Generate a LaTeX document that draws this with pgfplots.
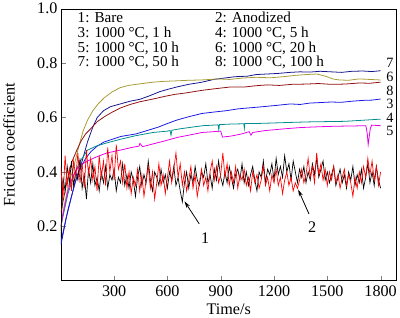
\documentclass[border=0pt]{standalone}
\usepackage{fontspec}
\setmainfont{Liberation Serif}
\usepackage{pgfplots}
\pgfplotsset{compat=1.18}
\usetikzlibrary{arrows.meta}
\definecolor{c7}{RGB}{20,20,140}
\definecolor{c6}{RGB}{165,155,50}
\definecolor{c8}{RGB}{145,15,15}
\definecolor{c3}{RGB}{25,25,230}
\definecolor{c4}{RGB}{0,140,140}
\definecolor{c5}{RGB}{230,0,230}
\newcommand\fs{\fontsize{16.5}{16.5}\selectfont}
\newcommand\fl{\fontsize{15.5}{15.5}\selectfont}
\begin{document}
\begin{tikzpicture}
\begin{axis}[
  width=342bp, height=277bp, scale only axis,
  xmin=0, xmax=1890, ymin=0, ymax=1,
  xtick={300,600,...,1800}, ytick={0.2,0.4,0.6,0.8,1.0},
  xticklabel={\pgfmathprintnumber[assume math mode=true,fixed,1000 sep={}]{\tick}},
  yticklabel={\pgfmathprintnumber[assume math mode=true,fixed,fixed zerofill,precision=1]{\tick}},
  tick align=inside, tick pos=left, major tick length=5bp,
  tick label style={font=\fs},
  label style={font=\fs},
  xlabel={Time/s}, ylabel={Friction coefficient},
  xticklabel style={yshift=-2bp},
  xlabel style={yshift=0bp},
  ylabel style={yshift=16bp},
  clip=true,
]
% 7 navy
\addplot[c7, line width=0.8pt] coordinates {(0,0.13)(15,0.18)(30,0.23)(45,0.27)(60,0.31)(80,0.36)(100,0.40)(120,0.44)(150,0.51)(180,0.565)(205,0.60)(240,0.625)(280,0.64)(335,0.65)(390,0.66)(445,0.667)(500,0.68)(556,0.695)(610,0.705)(657,0.713)(720,0.722)(795,0.73)(860,0.74)(920,0.745)(979,0.75)(1050,0.752)(1100,0.758)(1160,0.76)(1220,0.762)(1290,0.766)(1347,0.768)(1400,0.767)(1460,0.77)(1520,0.768)(1580,0.766)(1640,0.77)(1700,0.771)(1750,0.769)(1800,0.772)};
% 6 olive
\addplot[c6, line width=0.8pt] coordinates {(0,0.19)(10,0.24)(20,0.28)(40,0.34)(60,0.39)(77,0.43)(100,0.49)(125,0.55)(150,0.59)(180,0.625)(210,0.65)(243,0.672)(290,0.695)(335,0.71)(380,0.718)(425,0.722)(470,0.726)(519,0.73)(580,0.733)(657,0.735)(720,0.737)(790,0.738)(889,0.742)(950,0.74)(1020,0.745)(1100,0.748)(1180,0.746)(1250,0.75)(1320,0.755)(1380,0.758)(1440,0.76)(1490,0.752)(1530,0.742)(1568,0.738)(1620,0.737)(1680,0.742)(1740,0.74)(1800,0.738)};
% 8 dark red
\addplot[c8, line width=0.8pt] coordinates {(0,0.25)(15,0.30)(30,0.35)(50,0.41)(66,0.443)(90,0.48)(115,0.515)(140,0.54)(170,0.56)(205,0.585)(250,0.605)(290,0.62)(335,0.635)(390,0.648)(445,0.658)(519,0.668)(580,0.677)(640,0.685)(700,0.69)(795,0.70)(870,0.706)(950,0.712)(1030,0.712)(1100,0.717)(1163,0.72)(1230,0.718)(1300,0.722)(1380,0.723)(1450,0.725)(1520,0.722)(1600,0.723)(1680,0.727)(1740,0.726)(1800,0.73)};
% 3 blue
\addplot[c3, line width=0.8pt] coordinates {(0,0.14)(20,0.2)(40,0.26)(60,0.31)(80,0.36)(100,0.40)(115,0.42)(140,0.45)(170,0.475)(205,0.495)(243,0.51)(290,0.52)(335,0.53)(380,0.535)(425,0.54)(490,0.553)(550,0.565)(600,0.578)(650,0.59)(720,0.603)(795,0.615)(860,0.62)(930,0.625)(1000,0.632)(1070,0.636)(1140,0.64)(1220,0.645)(1292,0.65)(1347,0.648)(1400,0.653)(1460,0.655)(1520,0.657)(1580,0.656)(1640,0.66)(1700,0.663)(1750,0.664)(1800,0.668)};
% 4 teal
\addplot[c4, line width=0.8pt] coordinates {(0,0.2)(20,0.26)(40,0.32)(60,0.36)(80,0.40)(110,0.44)(150,0.48)(200,0.495)(250,0.505)(335,0.52)(420,0.533)(519,0.545)(600,0.55)(615,0.552)(620,0.535)(625,0.553)(657,0.557)(720,0.563)(800,0.57)(885,0.573)(889,0.555)(893,0.574)(960,0.576)(1030,0.577)(1033,0.56)(1036,0.578)(1100,0.578)(1200,0.58)(1292,0.582)(1400,0.584)(1500,0.585)(1600,0.586)(1700,0.59)(1800,0.594)};
% 5 magenta
\addplot[c5, line width=0.8pt] coordinates {(0,0.2)(20,0.27)(40,0.33)(60,0.37)(80,0.40)(110,0.425)(150,0.44)(200,0.455)(260,0.47)(335,0.48)(400,0.49)(440,0.495)(445,0.505)(460,0.493)(520,0.503)(590,0.515)(657,0.527)(720,0.535)(795,0.545)(860,0.548)(900,0.55)(910,0.528)(960,0.532)(1020,0.54)(1060,0.548)(1070,0.535)(1080,0.545)(1150,0.552)(1250,0.558)(1347,0.563)(1450,0.566)(1550,0.568)(1650,0.569)(1717,0.57)(1725,0.54)(1730,0.50)(1736,0.53)(1742,0.56)(1750,0.572)(1800,0.57)};
% 1 black
\addplot[black, line width=0.7pt] coordinates {(0,0.15)(12,0.38)(24,0.33)(36,0.42)(48,0.36)(60,0.44)(72,0.35)(84,0.40)(96,0.37)(108,0.45)(120,0.34)(132,0.39)(144,0.30)(156,0.41)(168,0.36)(180,0.43)(192,0.35)(204,0.38)(216,0.33)(228,0.40)(240,0.36)(252,0.42)(264,0.34)(276,0.39)(288,0.37)(300,0.41)(312,0.33)(324,0.38)(336,0.36)(348,0.43)(360,0.35)(372,0.39)(384,0.34)(396,0.40)(408,0.37)(420,0.31)(432,0.38)(444,0.42)(456,0.35)(468,0.39)(480,0.36)(492,0.44)(504,0.37)(516,0.33)(528,0.40)(540,0.38)(552,0.35)(564,0.41)(576,0.36)(588,0.39)(600,0.34)(612,0.40)(624,0.37)(636,0.42)(648,0.35)(660,0.38)(672,0.33)(684,0.29)(696,0.36)(708,0.40)(720,0.34)(732,0.39)(744,0.36)(756,0.42)(768,0.37)(780,0.35)(792,0.40)(804,0.38)(816,0.43)(828,0.36)(840,0.39)(852,0.34)(864,0.41)(876,0.37)(888,0.44)(900,0.38)(912,0.35)(924,0.40)(936,0.36)(948,0.42)(960,0.38)(972,0.34)(984,0.39)(996,0.41)(1008,0.37)(1020,0.43)(1032,0.36)(1044,0.40)(1056,0.35)(1068,0.39)(1080,0.42)(1092,0.37)(1104,0.33)(1116,0.40)(1128,0.38)(1140,0.44)(1152,0.36)(1164,0.41)(1176,0.39)(1188,0.43)(1200,0.37)(1212,0.45)(1224,0.39)(1236,0.42)(1248,0.38)(1260,0.46)(1272,0.40)(1284,0.43)(1296,0.37)(1308,0.44)(1320,0.40)(1332,0.36)(1344,0.41)(1356,0.38)(1368,0.42)(1380,0.36)(1392,0.40)(1404,0.37)(1416,0.43)(1428,0.39)(1440,0.45)(1452,0.38)(1464,0.41)(1476,0.44)(1488,0.37)(1500,0.40)(1512,0.36)(1524,0.39)(1536,0.42)(1548,0.35)(1560,0.38)(1572,0.41)(1584,0.36)(1596,0.39)(1608,0.34)(1620,0.40)(1632,0.37)(1644,0.42)(1656,0.35)(1668,0.39)(1680,0.36)(1692,0.41)(1704,0.34)(1716,0.38)(1728,0.43)(1740,0.36)(1752,0.40)(1764,0.35)(1776,0.42)(1788,0.37)(1800,0.34)};
% 2 red
\addplot[red, line width=0.7pt] coordinates {(0,0.42)(12,0.30)(24,0.46)(36,0.35)(48,0.41)(60,0.33)(72,0.44)(84,0.38)(96,0.47)(108,0.36)(120,0.43)(132,0.34)(144,0.48)(156,0.39)(168,0.45)(180,0.37)(192,0.42)(204,0.33)(216,0.46)(228,0.38)(240,0.44)(252,0.35)(264,0.49)(276,0.40)(288,0.46)(300,0.37)(312,0.50)(324,0.41)(336,0.44)(348,0.36)(360,0.43)(372,0.34)(384,0.40)(396,0.32)(408,0.38)(420,0.35)(432,0.41)(444,0.33)(456,0.39)(468,0.31)(480,0.37)(492,0.42)(504,0.34)(516,0.40)(528,0.30)(540,0.36)(552,0.43)(564,0.35)(576,0.39)(588,0.32)(600,0.38)(612,0.44)(624,0.36)(636,0.41)(648,0.47)(660,0.38)(672,0.43)(684,0.35)(696,0.40)(708,0.33)(720,0.37)(732,0.42)(744,0.34)(756,0.39)(768,0.31)(780,0.36)(792,0.41)(804,0.35)(816,0.38)(828,0.33)(840,0.40)(852,0.44)(864,0.37)(876,0.42)(888,0.36)(900,0.39)(912,0.47)(924,0.38)(936,0.43)(948,0.35)(960,0.40)(972,0.36)(984,0.42)(996,0.34)(1008,0.39)(1020,0.37)(1032,0.41)(1044,0.35)(1056,0.38)(1068,0.33)(1080,0.40)(1092,0.36)(1104,0.39)(1116,0.34)(1128,0.37)(1140,0.42)(1152,0.35)(1164,0.38)(1176,0.33)(1188,0.39)(1200,0.36)(1212,0.41)(1224,0.35)(1236,0.38)(1248,0.32)(1260,0.37)(1272,0.40)(1284,0.35)(1296,0.38)(1308,0.33)(1320,0.36)(1332,0.34)(1344,0.37)(1356,0.41)(1368,0.36)(1380,0.39)(1392,0.45)(1404,0.38)(1416,0.42)(1428,0.36)(1440,0.47)(1452,0.39)(1464,0.43)(1476,0.37)(1488,0.41)(1500,0.35)(1512,0.40)(1524,0.37)(1536,0.42)(1548,0.36)(1560,0.39)(1572,0.34)(1584,0.38)(1596,0.41)(1608,0.35)(1620,0.39)(1632,0.36)(1644,0.31)(1656,0.38)(1668,0.34)(1680,0.40)(1692,0.36)(1704,0.42)(1716,0.38)(1728,0.45)(1740,0.39)(1752,0.44)(1764,0.37)(1776,0.42)(1788,0.35)(1800,0.40)};
% legend text
\node[anchor=base west, inner sep=0pt, font=\fl] at (axis cs:94,0.950) {1: Bare};
\node[anchor=base west, inner sep=0pt, font=\fl] at (axis cs:94,0.894) {3: 1000 °C, 1 h};
\node[anchor=base west, inner sep=0pt, font=\fl] at (axis cs:94,0.840) {5: 1000 °C, 10 h};
\node[anchor=base west, inner sep=0pt, font=\fl] at (axis cs:94,0.786) {7: 1000 °C, 50 h};
\node[anchor=base west, inner sep=0pt, font=\fl] at (axis cs:867,0.950) {2: Anodized};
\node[anchor=base west, inner sep=0pt, font=\fl] at (axis cs:867,0.894) {4: 1000 °C, 5 h};
\node[anchor=base west, inner sep=0pt, font=\fl] at (axis cs:867,0.840) {6: 1000 °C, 20 h};
\node[anchor=base west, inner sep=0pt, font=\fl] at (axis cs:867,0.786) {8: 1000 °C, 100 h};
% curve labels
\node[inner sep=0pt, font=\fontsize{14.5}{14.5}\selectfont] at (axis cs:1852,0.800) {7};
\node[inner sep=0pt, font=\fontsize{14.5}{14.5}\selectfont] at (axis cs:1852,0.748) {6};
\node[inner sep=0pt, font=\fontsize{14.5}{14.5}\selectfont] at (axis cs:1852,0.699) {8};
\node[inner sep=0pt, font=\fontsize{14.5}{14.5}\selectfont] at (axis cs:1852,0.649) {3};
\node[inner sep=0pt, font=\fontsize{14.5}{14.5}\selectfont] at (axis cs:1852,0.599) {4};
\node[inner sep=0pt, font=\fontsize{14.5}{14.5}\selectfont] at (axis cs:1852,0.549) {5};
% arrows
\draw[-{Stealth[length=7bp,width=4bp]}, line width=0.8pt] (axis cs:779,0.209) -- (axis cs:696,0.292);
\node[inner sep=0pt, font=\fs] at (axis cs:812,0.155) {1};
\draw[-{Stealth[length=7bp,width=4bp]}, line width=0.8pt] (axis cs:1397,0.245) -- (axis cs:1336,0.335);
\node[inner sep=0pt, font=\fs] at (axis cs:1414,0.198) {2};
% corner zero
\node[anchor=north east, inner sep=0pt, font=\fs] at (axis cs:0,0) [xshift=-3bp,yshift=-2bp] {0};
\end{axis}
\end{tikzpicture}
\end{document}
